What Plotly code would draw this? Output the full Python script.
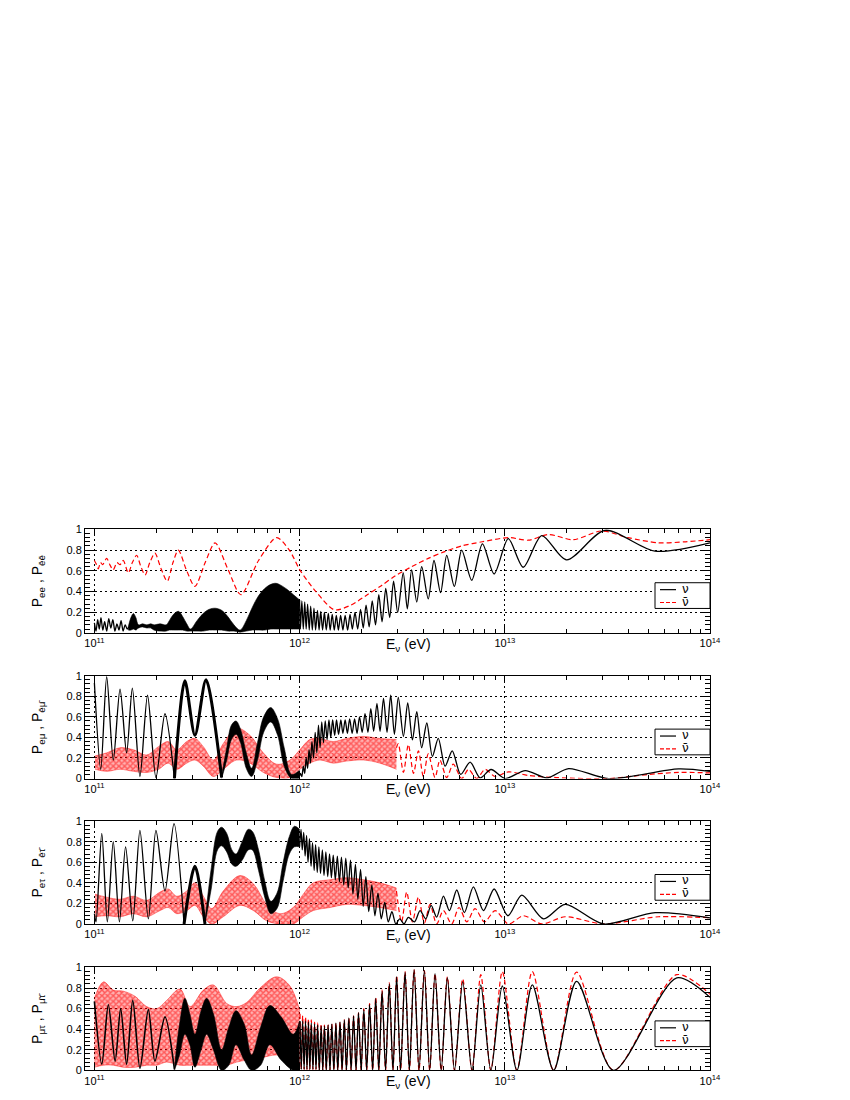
import numpy as np
import plotly.graph_objects as go

# ---------------- panel 1 : P_ee ----------------
ee_nu_jag_logE = [11.000, 11.008, 11.016, 11.024, 11.032, 11.041, 11.050, 11.060, 11.070, 11.080,
                  11.090, 11.100, 11.110, 11.120, 11.130, 11.140, 11.150, 11.160, 11.168]
ee_nu_jag_P = [0.10, 0.02, 0.13, 0.04, 0.15, 0.03, 0.11, 0.02, 0.14, 0.05,
               0.13, 0.02, 0.09, 0.03, 0.12, 0.02, 0.08, 0.04, 0.06]

ee_nu_band_logE = [11.165, 11.178, 11.190, 11.202, 11.215, 11.235, 11.255, 11.275, 11.290, 11.320,
                   11.350, 11.365, 11.385, 11.410, 11.430, 11.450, 11.468, 11.500, 11.530, 11.560,
                   11.590, 11.620, 11.650, 11.680, 11.710, 11.740, 11.770, 11.800, 11.830, 11.860,
                   11.885, 11.910, 11.940, 11.970, 12.000]
ee_nu_band_hi = [0.06, 0.15, 0.19, 0.15, 0.08, 0.09, 0.08, 0.09, 0.08, 0.09,
                 0.08, 0.12, 0.18, 0.21, 0.16, 0.09, 0.04, 0.12, 0.19, 0.23,
                 0.24, 0.22, 0.16, 0.08, 0.03, 0.12, 0.25, 0.36, 0.43, 0.47,
                 0.48, 0.46, 0.42, 0.37, 0.32]
ee_nu_band_lo = [0.03, 0.03, 0.04, 0.03, 0.05, 0.06, 0.05, 0.05, 0.03, 0.02,
                 0.02, 0.03, 0.03, 0.03, 0.03, 0.02, 0.02, 0.02, 0.02, 0.03,
                 0.03, 0.03, 0.02, 0.02, 0.01, 0.02, 0.03, 0.03, 0.03, 0.04,
                 0.04, 0.04, 0.04, 0.04, 0.04]

ee_nu_logE = [12.000, 12.004, 12.011, 12.018, 12.025, 12.032, 12.039, 12.047, 12.054, 12.062,
              12.070, 12.078, 12.087, 12.095, 12.103, 12.112, 12.121, 12.130, 12.140, 12.149,
              12.159, 12.169, 12.179, 12.189, 12.200, 12.211, 12.222, 12.234, 12.246, 12.257,
              12.270, 12.283, 12.297, 12.310, 12.324, 12.339, 12.354, 12.370, 12.386, 12.402,
              12.420, 12.439, 12.458, 12.478, 12.505, 12.525, 12.546, 12.571, 12.595, 12.627,
              12.655, 12.687, 12.717, 12.754, 12.790, 12.839, 12.891, 12.948, 13.017, 13.090,
              13.180, 13.301, 13.488, 13.732, 14.000]
ee_nu_P = [0.32, 0.04, 0.31, 0.04, 0.30, 0.04, 0.28, 0.03, 0.26, 0.03,
           0.24, 0.03, 0.22, 0.03, 0.21, 0.03, 0.20, 0.03, 0.19, 0.03,
           0.18, 0.03, 0.17, 0.03, 0.17, 0.03, 0.17, 0.03, 0.18, 0.04,
           0.20, 0.04, 0.23, 0.05, 0.27, 0.06, 0.31, 0.08, 0.37, 0.11,
           0.43, 0.15, 0.50, 0.20, 0.58, 0.235, 0.61, 0.30, 0.64, 0.33,
           0.70, 0.39, 0.75, 0.45, 0.80, 0.51, 0.86, 0.57, 0.91, 0.635,
           0.94, 0.705, 0.99, 0.79, 0.87]

ee_nubar_logE = [11.000, 11.008, 11.019, 11.030, 11.040, 11.060, 11.075, 11.092, 11.110, 11.125,
                 11.141, 11.165, 11.185, 11.206, 11.225, 11.247, 11.270, 11.295, 11.325, 11.355,
                 11.383, 11.409, 11.450, 11.490, 11.540, 11.588, 11.650, 11.714, 11.800, 11.888,
                 11.950, 12.001, 12.080, 12.170, 12.250, 12.330, 12.400, 12.465, 12.546, 12.627,
                 12.700, 12.790, 12.890, 13.020, 13.115, 13.213, 13.334, 13.472, 13.600, 13.749,
                 13.880, 14.000]
ee_nubar_P = [0.70, 0.67, 0.62, 0.68, 0.66, 0.72, 0.66, 0.61, 0.68, 0.66,
              0.70, 0.58, 0.68, 0.75, 0.65, 0.56, 0.68, 0.77, 0.62, 0.50,
              0.68, 0.80, 0.60, 0.45, 0.68, 0.87, 0.62, 0.37, 0.70, 0.92,
              0.80, 0.61, 0.40, 0.225, 0.27, 0.37, 0.46, 0.55, 0.64, 0.72,
              0.78, 0.84, 0.88, 0.92, 0.895, 0.95, 0.90, 0.984, 0.92, 0.87,
              0.88, 0.90]

# ---------------- panel 2 : P_emu ----------------
emu_nu_thin_logE = [11.000, 11.031, 11.060, 11.092, 11.125, 11.157, 11.185, 11.222, 11.259, 11.300,
                    11.344, 11.390]
emu_nu_thin_P = [0.93, 0.09, 0.99, 0.18, 0.87, 0.25, 0.88, 0.02, 0.81, 0.01,
                 0.63, 0.00]
emu_nu_thick_logE = [11.390, 11.441, 11.490, 11.544, 11.620]
emu_nu_thick_P = [0.00, 0.95, 0.42, 0.96, 0.01]
emu_nu_band_logE = [11.620, 11.645, 11.668, 11.690, 11.712, 11.740, 11.766, 11.795, 11.825, 11.859,
                    11.893, 11.925, 11.961, 12.000]
emu_nu_band_hi = [0.03, 0.30, 0.52, 0.56, 0.48, 0.25, 0.10, 0.35, 0.60, 0.69,
                  0.58, 0.30, 0.04, 0.08]
emu_nu_band_lo = [0.00, 0.18, 0.38, 0.43, 0.35, 0.10, 0.02, 0.18, 0.45, 0.55,
                  0.42, 0.12, 0.00, 0.00]

emu_nu_logE = [12.000, 12.004, 12.011, 12.018, 12.025, 12.032, 12.039, 12.046, 12.053, 12.060,
               12.068, 12.076, 12.084, 12.092, 12.100, 12.108, 12.116, 12.125, 12.134, 12.143,
               12.152, 12.161, 12.171, 12.180, 12.190, 12.201, 12.211, 12.222, 12.233, 12.244,
               12.256, 12.268, 12.280, 12.292, 12.305, 12.319, 12.333, 12.347, 12.361, 12.377,
               12.392, 12.409, 12.426, 12.444, 12.462, 12.481, 12.506, 12.527, 12.550, 12.571,
               12.595, 12.620, 12.647, 12.676, 12.709, 12.744, 12.785, 12.831, 12.880, 12.933,
               13.002, 13.100, 13.205, 13.311, 13.506, 13.847, 14.000]
emu_nu_P = [0.03, 0.05, 0.02, 0.12, 0.05, 0.20, 0.10, 0.28, 0.15, 0.36,
            0.20, 0.45, 0.25, 0.52, 0.30, 0.55, 0.35, 0.56, 0.38, 0.57,
            0.40, 0.57, 0.42, 0.57, 0.43, 0.57, 0.44, 0.57, 0.44, 0.58,
            0.44, 0.58, 0.44, 0.60, 0.45, 0.63, 0.45, 0.68, 0.46, 0.73,
            0.46, 0.78, 0.45, 0.81, 0.43, 0.79, 0.41, 0.735, 0.376, 0.65,
            0.30, 0.54, 0.216, 0.39, 0.12, 0.27, 0.04, 0.16, 0.007, 0.088,
            0.00, 0.078, 0.007, 0.097, 0.00, 0.094, 0.07]

emu_nubar_band_logE = [11.003, 11.060, 11.125, 11.190, 11.255, 11.312, 11.360, 11.401, 11.450, 11.490,
                       11.531, 11.580, 11.628, 11.693, 11.758, 11.823, 11.888, 11.953, 12.001, 12.050,
                       12.099, 12.164, 12.229, 12.311, 12.391, 12.472]
emu_nubar_band_lo = [0.09, 0.07, 0.09, 0.07, 0.06, 0.09, 0.15, 0.09, 0.15, 0.18,
                     0.12, 0.02, 0.09, 0.18, 0.15, 0.06, 0.01, 0.01, 0.09, 0.15,
                     0.18, 0.15, 0.17, 0.18, 0.15, 0.09]
emu_nubar_band_hi = [0.22, 0.25, 0.30, 0.28, 0.23, 0.31, 0.36, 0.28, 0.36, 0.39,
                     0.31, 0.18, 0.34, 0.49, 0.42, 0.25, 0.14, 0.18, 0.28, 0.38,
                     0.39, 0.36, 0.39, 0.41, 0.39, 0.38]
emu_nubar_logE = [12.472, 12.481, 12.506, 12.530, 12.555, 12.579, 12.603, 12.627, 12.660, 12.684,
                  12.717, 12.749, 12.790, 12.823, 12.863, 12.904, 12.953, 13.018, 13.115, 13.250,
                  13.506, 13.700, 13.847, 14.000]
emu_nubar_P = [0.30, 0.34, 0.06, 0.33, 0.05, 0.27, 0.02, 0.24, 0.01, 0.18,
               0.01, 0.14, 0.00, 0.09, 0.00, 0.09, 0.02, 0.065, 0.03, 0.01,
               0.00, 0.04, 0.06, 0.055]

# ---------------- panel 3 : P_etau ----------------
etau_nu_thin_logE = [11.000, 11.008, 11.036, 11.063, 11.092, 11.122, 11.152, 11.187, 11.222, 11.263,
                     11.300, 11.344, 11.388, 11.437]
etau_nu_thin_P = [0.10, 0.02, 0.88, 0.02, 0.80, 0.02, 0.75, 0.03, 0.91, 0.05,
                  0.91, 0.32, 0.975, 0.00]
etau_nu_thick_logE = [11.437, 11.490, 11.539]
etau_nu_thick_P = [0.00, 0.56, 0.00]
etau_nu_band_logE = [11.539, 11.570, 11.600, 11.620, 11.645, 11.670, 11.690, 11.720, 11.750, 11.770,
                     11.800, 11.830, 11.860, 11.890, 11.920, 11.950, 11.975, 12.000]
etau_nu_band_hi = [0.03, 0.55, 0.90, 0.94, 0.88, 0.72, 0.68, 0.80, 0.92, 0.90,
                   0.72, 0.42, 0.22, 0.30, 0.60, 0.85, 0.95, 0.92]
etau_nu_band_lo = [0.00, 0.35, 0.72, 0.76, 0.70, 0.58, 0.56, 0.62, 0.72, 0.72,
                   0.52, 0.26, 0.10, 0.15, 0.42, 0.68, 0.75, 0.75]

etau_nu_logE = [12.000, 12.007, 12.013, 12.020, 12.027, 12.034, 12.041, 12.048, 12.056, 12.063,
                12.071, 12.078, 12.086, 12.094, 12.102, 12.111, 12.119, 12.128, 12.137, 12.146,
                12.155, 12.164, 12.174, 12.184, 12.194, 12.204, 12.215, 12.225, 12.237, 12.248,
                12.260, 12.272, 12.284, 12.297, 12.310, 12.323, 12.337, 12.352, 12.367, 12.382,
                12.398, 12.415, 12.432, 12.450, 12.469, 12.488, 12.509, 12.530, 12.560, 12.587,
                12.615, 12.641, 12.668, 12.701, 12.730, 12.766, 12.803, 12.847, 12.896, 12.948,
                13.015, 13.083, 13.189, 13.294, 13.481, 13.733, 14.000]
etau_nu_P = [0.75, 0.92, 0.72, 0.89, 0.66, 0.86, 0.60, 0.83, 0.56, 0.79,
             0.52, 0.77, 0.50, 0.75, 0.49, 0.72, 0.47, 0.70, 0.46, 0.68,
             0.45, 0.67, 0.43, 0.66, 0.41, 0.65, 0.38, 0.64, 0.35, 0.62,
             0.29, 0.58, 0.24, 0.53, 0.17, 0.46, 0.12, 0.38, 0.08, 0.30,
             0.05, 0.21, 0.02, 0.12, 0.00, 0.05, 0.00, 0.065, 0.02, 0.13,
             0.05, 0.18, 0.066, 0.27, 0.13, 0.33, 0.11, 0.36, 0.13, 0.34,
             0.08, 0.28, 0.05, 0.19, 0.00, 0.11, 0.06]

etau_nubar_band_logE = [11.003, 11.060, 11.125, 11.190, 11.255, 11.320, 11.360, 11.401, 11.450, 11.490,
                        11.531, 11.572, 11.628, 11.709, 11.775, 11.840, 11.904, 11.969, 12.018, 12.067,
                        12.148, 12.229, 12.311, 12.391, 12.472]
etau_nubar_band_lo = [0.07, 0.08, 0.07, 0.10, 0.07, 0.13, 0.16, 0.10, 0.13, 0.18,
                      0.07, 0.00, 0.07, 0.18, 0.13, 0.03, 0.00, 0.00, 0.07, 0.13,
                      0.16, 0.19, 0.18, 0.16, 0.13]
etau_nubar_band_hi = [0.29, 0.26, 0.24, 0.27, 0.23, 0.31, 0.34, 0.27, 0.32, 0.40,
                      0.27, 0.15, 0.32, 0.47, 0.39, 0.19, 0.10, 0.16, 0.29, 0.40,
                      0.43, 0.45, 0.43, 0.40, 0.35]
etau_nubar_logE = [12.472, 12.497, 12.522, 12.550, 12.579, 12.608, 12.636, 12.668, 12.701, 12.741,
                   12.777, 12.815, 12.855, 12.901, 12.953, 13.018, 13.091, 13.181, 13.294, 13.481,
                   13.749, 14.000]
etau_nubar_P = [0.32, 0.02, 0.31, 0.02, 0.26, 0.01, 0.19, 0.00, 0.13, 0.00,
                0.16, 0.02, 0.15, 0.02, 0.13, 0.00, 0.08, 0.00, 0.07, 0.00,
                0.07, 0.06]

# ---------------- panel 4 : P_mutau ----------------
mutau_nu_thin_logE = [11.000, 11.036, 11.068, 11.101, 11.128, 11.157, 11.187, 11.222, 11.263, 11.295,
                      11.344, 11.390]
mutau_nu_thin_P = [0.67, 0.06, 0.64, 0.09, 0.60, 0.06, 0.68, 0.02, 0.59, 0.09,
                   0.52, 0.01]
mutau_nu_band_logE = [11.390, 11.415, 11.441, 11.465, 11.490, 11.520, 11.547, 11.580, 11.620, 11.655,
                      11.690, 11.730, 11.766, 11.810, 11.855, 11.910, 11.969, 12.000]
mutau_nu_band_hi = [0.02, 0.45, 0.70, 0.55, 0.35, 0.58, 0.70, 0.55, 0.20, 0.42,
                    0.58, 0.45, 0.15, 0.42, 0.63, 0.52, 0.35, 0.48]
mutau_nu_band_lo = [0.00, 0.15, 0.35, 0.25, 0.03, 0.20, 0.35, 0.20, 0.00, 0.05,
                    0.25, 0.10, 0.00, 0.05, 0.25, 0.10, 0.00, 0.00]

mutau_pk_logE = [12.002, 12.015, 12.029, 12.043, 12.057, 12.073, 12.088, 12.105, 12.121, 12.139,
                 12.157, 12.177, 12.197, 12.218, 12.240, 12.263, 12.287, 12.313, 12.341, 12.371,
                 12.402, 12.437, 12.473, 12.514, 12.558, 12.608, 12.660, 12.720, 12.795, 12.883,
                 12.988, 13.134, 13.350, 13.838, 14.000]
mutau_tr_logE = [12.008, 12.022, 12.036, 12.050, 12.065, 12.080, 12.096, 12.113, 12.130, 12.148,
                 12.167, 12.186, 12.207, 12.228, 12.251, 12.275, 12.300, 12.327, 12.356, 12.386,
                 12.419, 12.455, 12.492, 12.535, 12.582, 12.634, 12.690, 12.755, 12.840, 12.932,
                 13.059, 13.238, 13.530]
mutau_nu_pk_P = [0.48, 0.48, 0.48, 0.47, 0.46, 0.45, 0.44, 0.43, 0.43, 0.44,
                 0.45, 0.46, 0.47, 0.49, 0.51, 0.53, 0.56, 0.59, 0.64, 0.70,
                 0.77, 0.84, 0.91, 0.955, 0.98, 0.97, 0.94, 0.90, 0.86, 0.83,
                 0.82, 0.83, 0.865, 0.90, 0.71]
mutau_nu_tr_P = [0.01, 0.01, 0.01, 0.01, 0.01, 0.01, 0.00, 0.00, 0.00, 0.00,
                 0.00, 0.00, 0.00, 0.00, 0.00, 0.00, 0.00, 0.00, 0.00, 0.00,
                 0.00, 0.00, 0.00, 0.00, 0.00, 0.00, 0.00, 0.00, 0.00, 0.00,
                 0.00, 0.00, 0.00]
mutau_nubar_pk_P = [0.55, 0.53, 0.52, 0.50, 0.49, 0.47, 0.46, 0.45, 0.44, 0.44,
                    0.45, 0.46, 0.47, 0.49, 0.51, 0.53, 0.56, 0.60, 0.65, 0.71,
                    0.78, 0.85, 0.92, 0.96, 0.98, 0.97, 0.94, 0.91, 0.89, 0.93,
                    0.96, 0.96, 0.955, 0.93, 0.74]
mutau_nubar_tr_P = mutau_nu_tr_P

mutau_nubar_band_logE = [11.000, 11.044, 11.092, 11.141, 11.198, 11.255, 11.304, 11.352, 11.417, 11.466,
                         11.531, 11.580, 11.645, 11.693, 11.742, 11.807, 11.888, 11.953, 12.001]
mutau_nubar_band_lo = [0.03, 0.05, 0.05, 0.03, 0.03, 0.05, 0.05, 0.08, 0.05, 0.05,
                       0.05, 0.05, 0.05, 0.08, 0.10, 0.12, 0.15, 0.12, 0.05]
mutau_nubar_band_hi = [0.70, 0.86, 0.78, 0.77, 0.72, 0.62, 0.60, 0.68, 0.79, 0.62,
                       0.78, 0.83, 0.65, 0.62, 0.66, 0.80, 0.91, 0.82, 0.58]

# ---------------- layout ----------------
# the page body has an 8 px margin, so screen pixels are shifted by OFF
OFF = 8
W, H = 850, 1100
X0, X1 = 85, 710                      # frame left / right on screen
TOPS = [529, 677, 824, 972]           # frame tops on screen
BOTS = [634, 781, 928, 1076]          # frame bottoms on screen
RED = "#ff0000"
DASH = "5px,3px"
FONT = "Liberation Sans, Arial, sans-serif"

fig = go.Figure()


def ax(k):
    return ("x", "y") if k == 1 else (f"x{k}", f"y{k}")


def E(logE):
    return [10 ** v for v in logE]


def line(k, logE, P, color="black", width=1.3, dash="solid"):
    xa, ya = ax(k)
    fig.add_trace(go.Scatter(x=E(logE), y=P, mode="lines", xaxis=xa, yaxis=ya,
                             line=dict(color=color, width=width, dash=dash, shape="spline", smoothing=0.8),
                             showlegend=False, hoverinfo="skip"))


def band(k, logE, lo, hi, color, hatched=False):
    xa, ya = ax(k)
    edge = "rgba(255,0,0,0.7)" if hatched else color
    fig.add_trace(go.Scatter(x=E(logE), y=lo, mode="lines", xaxis=xa, yaxis=ya,
                             line=dict(color=edge, width=0.6, shape="spline"),
                             showlegend=False, hoverinfo="skip"))
    if hatched:
        # dense dashed oscillation -> red cross hatch
        extra = dict(fillcolor="rgba(255,0,0,0.3)",
                     fillpattern=dict(shape="x", fgcolor=color, bgcolor="rgba(255,0,0,0.3)",
                                      size=4, solidity=0.6))
    else:
        extra = dict(fillcolor=color)
    fig.add_trace(go.Scatter(x=E(logE), y=hi, mode="lines", xaxis=xa, yaxis=ya, fill="tonexty",
                             line=dict(color=edge, width=0.6, shape="spline"),
                             showlegend=False, hoverinfo="skip", **extra))


def merged(pk_x, pk_y, tr_x, tr_y):
    pts = sorted(list(zip(pk_x, pk_y)) + list(zip(tr_x, tr_y)))
    return [p[0] for p in pts], [p[1] for p in pts]


# panel 1
line(1, ee_nubar_logE, ee_nubar_P, RED, 1.2, DASH)
line(1, ee_nu_jag_logE, ee_nu_jag_P)
band(1, ee_nu_band_logE, ee_nu_band_lo, ee_nu_band_hi, "black")
line(1, ee_nu_logE, ee_nu_P)

# panel 2
band(2, emu_nubar_band_logE, emu_nubar_band_lo, emu_nubar_band_hi, RED, hatched=True)
line(2, emu_nubar_logE, emu_nubar_P, RED, 1.2, DASH)
line(2, emu_nu_thin_logE, emu_nu_thin_P)
line(2, emu_nu_thick_logE, emu_nu_thick_P, width=3)
band(2, emu_nu_band_logE, emu_nu_band_lo, emu_nu_band_hi, "black")
line(2, emu_nu_logE, emu_nu_P)

# panel 3
band(3, etau_nubar_band_logE, etau_nubar_band_lo, etau_nubar_band_hi, RED, hatched=True)
line(3, etau_nubar_logE, etau_nubar_P, RED, 1.2, DASH)
line(3, etau_nu_thin_logE, etau_nu_thin_P)
line(3, etau_nu_thick_logE, etau_nu_thick_P, width=3)
band(3, etau_nu_band_logE, etau_nu_band_lo, etau_nu_band_hi, "black")
line(3, etau_nu_logE, etau_nu_P)

# panel 4
band(4, mutau_nubar_band_logE, mutau_nubar_band_lo, mutau_nubar_band_hi, RED, hatched=True)
lx, ly = merged(mutau_pk_logE, mutau_nubar_pk_P, mutau_tr_logE, mutau_nubar_tr_P)
line(4, lx, ly, RED, 1.2, DASH)
line(4, mutau_nu_thin_logE, mutau_nu_thin_P, width=1.6)
band(4, mutau_nu_band_logE, mutau_nu_band_lo, mutau_nu_band_hi, "black")
lx, ly = merged(mutau_pk_logE, mutau_nu_pk_P, mutau_tr_logE, mutau_nu_tr_P)
line(4, lx, ly)

x_major = [1e11, 1e12, 1e13, 1e14]
x_text = ["10<sup>11</sup>", "10<sup>12</sup>", "10<sup>13</sup>", "10<sup>14</sup>"]
x_minor = [m * 10 ** d for d in range(10, 14) for m in range(2, 10) if 9e10 <= m * 10 ** d <= 1e14]
y_major = [0, 0.2, 0.4, 0.6, 0.8, 1]
y_text = ["0", "0.2", "0.4", "0.6", "0.8", "1"]

ytitles = ["P<sub>ee</sub> , P<sub>\u0113\u0113</sub>",
           "P<sub>e\u03bc</sub> , P<sub>\u0113\u03bc\u0304</sub>",
           "P<sub>e\u03c4</sub> , P<sub>\u0113\u03c4\u0304</sub>",
           "P<sub>\u03bc\u03c4</sub> , P<sub>\u03bc\u0304\u03c4\u0304</sub>"]


def px_x(px):
    return (px - X0) / (X1 - X0)


def px_y(py):
    return 1 - (py - OFF) / H


layout = dict(width=W, height=H,
              margin=dict(l=X0 - OFF, r=W - X1 + OFF, t=0, b=0),
              plot_bgcolor="white", paper_bgcolor="white", showlegend=False,
              font=dict(family=FONT, size=11, color="black"))
annotations, shapes = [], []
for k in range(1, 5):
    top, bot = TOPS[k - 1], BOTS[k - 1]
    xa, ya = ax(k)
    xkey = "xaxis" if k == 1 else f"xaxis{k}"
    ykey = "yaxis" if k == 1 else f"yaxis{k}"
    layout[xkey] = dict(type="log", range=[np.log10(9e10), 14], domain=[0, 1], anchor=ya,
                        showline=True, linecolor="black", linewidth=1, mirror="allticks",
                        ticks="inside", ticklen=7, tickcolor="black",
                        tickmode="array", tickvals=x_major, ticktext=x_text,
                        showgrid=True, gridcolor="black", griddash="2px,3px", gridwidth=1,
                        minor=dict(tickmode="array", tickvals=x_minor, ticks="inside", ticklen=4,
                                   tickcolor="black", showgrid=False),
                        tickfont=dict(family=FONT, size=11), zeroline=False)
    layout[ykey] = dict(range=[0, 1], domain=[px_y(bot), px_y(top)], anchor=xa,
                        showline=True, linecolor="black", linewidth=1, mirror="allticks",
                        ticks="inside", ticklen=10, tickcolor="black",
                        tickmode="array", tickvals=y_major, ticktext=y_text,
                        showgrid=True, gridcolor="black", griddash="2px,3px", gridwidth=1,
                        minor=dict(dtick=0.04, tick0=0, ticks="inside", ticklen=5,
                                   tickcolor="black", showgrid=False),
                        tickfont=dict(family=FONT, size=11), zeroline=False)

    annotations.append(dict(text="E<sub>\u03bd</sub> (eV)", xref="paper", yref="paper",
                            x=px_x(408), y=px_y(bot + 12), showarrow=False,
                            xanchor="center", yanchor="middle", font=dict(size=14)))
    annotations.append(dict(text=ytitles[k - 1], xref="paper", yref="paper", textangle=-90,
                            x=px_x(38), y=px_y((top + bot) / 2), showarrow=False,
                            xanchor="center", yanchor="middle", font=dict(size=14)))

    # legend box
    shapes.append(dict(type="rect", xref="paper", yref="paper", x0=px_x(655), x1=px_x(710),
                       y0=px_y(top + 80), y1=px_y(top + 54), line=dict(color="black", width=1),
                       fillcolor="white", layer="above"))
    shapes.append(dict(type="line", xref="paper", yref="paper", x0=px_x(660), x1=px_x(676),
                       y0=px_y(top + 61), y1=px_y(top + 61), line=dict(color="black", width=1.2),
                       layer="above"))
    shapes.append(dict(type="line", xref="paper", yref="paper", x0=px_x(660), x1=px_x(677),
                       y0=px_y(top + 74), y1=px_y(top + 74), line=dict(color=RED, width=1.2, dash="4px,2px"),
                       layer="above"))
    annotations.append(dict(text="\u03bd", xref="paper", yref="paper", x=px_x(680), y=px_y(top + 60),
                            showarrow=False, xanchor="left", yanchor="middle",
                            font=dict(family="DejaVu Sans", size=12)))
    annotations.append(dict(text="\u03bd\u0304", xref="paper", yref="paper", x=px_x(680),
                            y=px_y(top + 73), showarrow=False, xanchor="left", yanchor="middle",
                            font=dict(family="DejaVu Sans", size=12)))

layout["annotations"] = annotations
layout["shapes"] = shapes
fig.update_layout(**layout)

fig.write_html("out.html")
